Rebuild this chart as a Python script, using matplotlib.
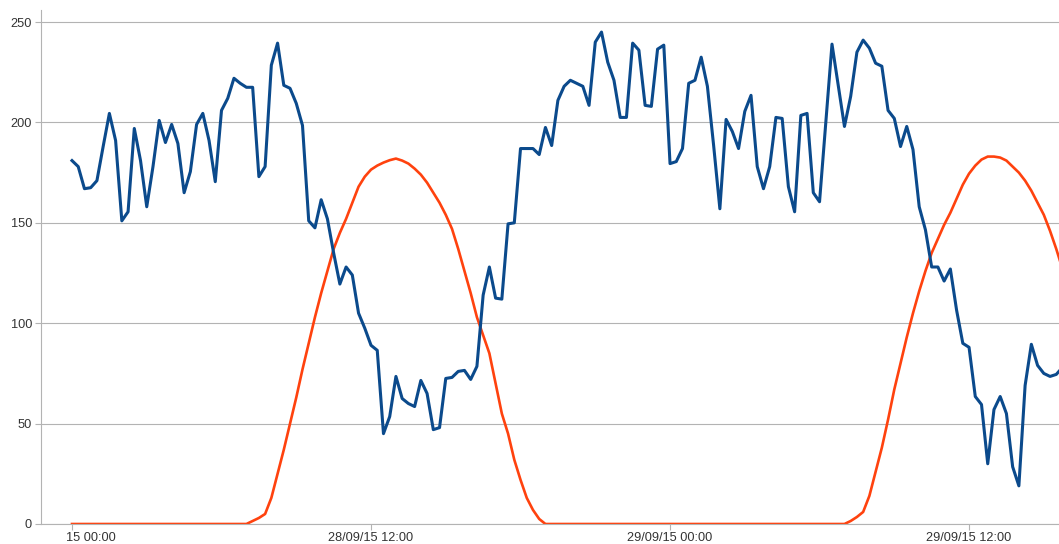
import numpy as np
import pandas as pd
import matplotlib
matplotlib.use("Agg")
import matplotlib.pyplot as plt
import matplotlib.dates as mdates
from matplotlib.transforms import ScaledTranslation

# 15 minute samples starting 28/09/15 00:00
start = pd.Timestamp("2015-09-28 00:00")
times = pd.date_range(start, periods=160, freq="15min")

# blue series
blue = [181, 178, 167, 167.5, 171, 188, 204.5, 191, 151, 155.5,
        197, 181, 158, 178, 201, 190, 199, 189.5, 165, 175.5,
        199, 204.5, 191, 170.5, 206, 212, 222, 219.5, 217.5, 217.5,
        173, 178, 228.5, 239.5, 218.5, 217, 209.5, 198.5, 151, 147.5,
        161.5, 152, 135, 119.5, 128, 124, 105, 97.5, 89, 86.5,
        45, 53.5, 73.5, 62.5, 60, 58.5, 71.5, 65, 47, 48,
        72.5, 73, 76, 76.5, 72, 78.5, 114, 128, 112.5, 112,
        149.5, 150, 187, 187, 187, 184, 197.5, 188.5, 211, 218,
        221, 219.5, 218, 208.5, 240, 245, 230, 221, 202.5, 202.5,
        239.5, 236, 208.5, 208, 236.5, 238.5, 179.5, 180.5, 187, 219.5,
        221, 232.5, 218, 188.5, 157, 201.5, 195.5, 187, 205.5, 213.5,
        178, 167, 178, 202.5, 202, 168, 155.5, 203.5, 204.5, 165,
        160.5, 199.5, 239, 218.5, 198, 213, 235, 241, 237, 229.5,
        228, 206, 202, 188, 198, 186.5, 158, 146.5, 128, 128,
        121, 127, 106.5, 90, 88, 63.5, 59.5, 30, 57, 63.5,
        55, 28.5, 19, 69, 89.5, 79, 75, 73.5, 74.5, 78]

# orange series
night1 = [0, 0, 0, 0, 0, 0, 0, 0, 0, 0, 0, 0, 0, 0,
          0, 0, 0, 0, 0, 0, 0, 0, 0, 0, 0, 0, 0, 0]
day1 = [0, 1.5, 3, 5, 13, 25, 37, 50, 63, 77,
        90, 103, 115, 126, 137, 145, 152, 160, 168, 173,
        176.5, 178.5, 180, 181.2, 182, 181, 179.5, 177, 174, 170,
        165, 160, 154, 147, 137, 126, 115, 103, 94, 85,
        70, 55, 45, 32, 22, 13, 7, 2.5, 0]
night2 = [0, 0, 0, 0, 0, 0, 0, 0, 0, 0, 0, 0, 0, 0, 0, 0,
          0, 0, 0, 0, 0, 0, 0, 0, 0, 0, 0, 0, 0, 0, 0, 0,
          0, 0, 0, 0, 0, 0, 0, 0, 0, 0, 0, 0, 0, 0, 0]
day2 = [0, 1.5, 3.5, 6, 14, 26, 38, 52, 67, 80,
        93, 105, 116, 126, 135, 142, 149, 155, 162, 169,
        174.5, 178.5, 181.5, 183, 183, 182.5, 181, 178, 175, 171,
        166, 160, 154, 146, 137, 127]
orange = night1 + day1 + night2 + day2

tick_times = [start + pd.Timedelta(hours=h) for h in (0, 12, 24, 36)]
tick_labels = ["15 00:00", "28/09/15 12:00", "29/09/15 00:00", "29/09/15 12:00"]
yticks = [0, 50, 100, 150, 200, 250]

plt.rcParams['font.family'] = ['Liberation Sans', 'DejaVu Sans']

fig = plt.figure(figsize=(10.59, 5.44), dpi=100)
ax = fig.add_axes([41/1059, 20/544, 1 - 41/1059, 514/544])

grid_col = "#b3b3b3"
ax.set_yticks(yticks)
for v in yticks:
    ax.axhline(v, color=grid_col, lw=0.8, zorder=0)

ax.plot(times, orange, color="#ff420e", lw=1.9, zorder=2)
ax.plot(times, blue, color="#0b4a8c", lw=2.2, zorder=3)

ax.set_xlim(start - pd.Timedelta(hours=1.244), start + pd.Timedelta(hours=39.61))
ax.set_ylim(0, 256)

ax.set_xticks(tick_times)
ax.set_xticklabels(tick_labels)

for s in ("top", "right"):
    ax.spines[s].set_visible(False)
ax.spines["left"].set_color(grid_col)
ax.spines["bottom"].set_color(grid_col)
ax.spines["left"].set_linewidth(0.8)
ax.spines["bottom"].set_linewidth(0.8)

ax.tick_params(axis="both", colors=grid_col, length=4.5, width=0.8,
               labelsize=9.2, labelcolor="#333333")
ax.tick_params(axis="y", pad=2)
ax.tick_params(axis="x", pad=1.5)

# the first date label is partly hidden in the original
lab0 = ax.get_xticklabels()[0]
lab0.set_ha("left")
lab0.set_transform(lab0.get_transform() + ScaledTranslation(-6/100, 0, fig.dpi_scale_trans))

fig.savefig("out.png", dpi=100)
